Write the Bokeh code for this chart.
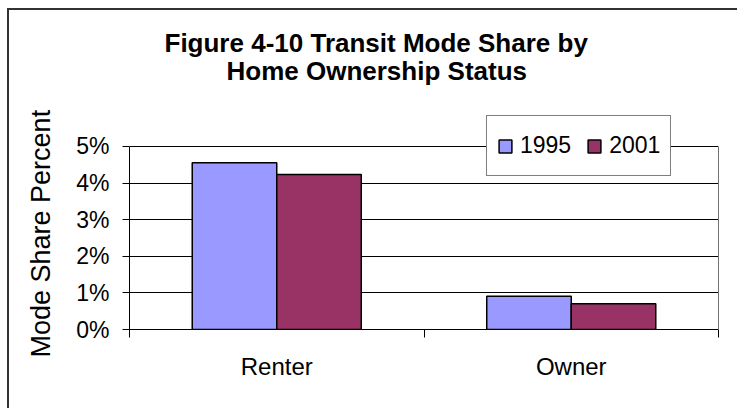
from bokeh.plotting import figure
from bokeh.models import (ColumnDataSource, FactorRange, Range1d, LinearAxis, FixedTicker,
                          NumeralTickFormatter, Legend, LegendItem, Title, InlineStyleSheet)
from bokeh.transform import dodge
from bokeh.embed import file_html
from bokeh.resources import INLINE

# ---- data ----
categories = ["Renter", "Owner"]
years = ["1995", "2001"]
share_1995 = [0.0455, 0.0091]
share_2001 = [0.0423, 0.0070]
y_ticks = [0.0, 0.01, 0.02, 0.03, 0.04, 0.05]
title_lines = ["Figure 4-10  Transit Mode Share by", "Home Ownership Status"]
y_label = "Mode Share Percent"

FONT = "Liberation Sans"
COL_1995 = "#9999FF"
COL_2001 = "#993366"

src = ColumnDataSource(dict(cat=categories, y1995=share_1995, y2001=share_2001))

# frame extends a little above the 5% line so the legend (which overlaps it) is not clipped
p = figure(width=737, height=408,
           x_range=FactorRange(factors=categories, range_padding=0),
           y_range=Range1d(0, 0.0598),
           output_backend="svg", toolbar_location=None, x_axis_location=None,
           min_border_left=129, min_border_right=19, min_border_top=110, min_border_bottom=79)
p.title.visible = False
p.background_fill_color = "white"
p.border_fill_color = "white"
p.outline_line_color = None
p.stylesheets = [InlineStyleSheet(css="""
:host { position: relative; }
:host::after { content: ''; position: absolute; left: 7px; top: 8px; right: 0; bottom: 0;
  border-left: 2px solid #333; border-top: 2px solid #333; pointer-events: none; }
""")]

# bars
r1 = p.vbar(x=dodge("cat", -0.1435, range=p.x_range), top="y1995", width=0.287, source=src,
            fill_color=COL_1995, line_color="black", line_width=1.5)
r2 = p.vbar(x=dodge("cat", 0.1435, range=p.x_range), top="y2001", width=0.287, source=src,
            fill_color=COL_2001, line_color="black", line_width=1.5)

# y axis
yt = FixedTicker(ticks=y_ticks, minor_ticks=[])
yax = p.yaxis[0]
yax.ticker = yt
yax.bounds = (y_ticks[0], y_ticks[-1])
yax.formatter = NumeralTickFormatter(format="0%")
yax.axis_line_color = "black"
yax.major_tick_line_color = "black"
yax.major_tick_out = 7
yax.major_tick_in = 0
yax.minor_tick_line_color = None
yax.major_label_text_font = FONT
yax.major_label_text_font_size = "23px"
yax.major_label_text_color = "black"
yax.major_label_standoff = 13

p.ygrid.ticker = yt
p.ygrid.grid_line_color = "black"
p.xgrid.grid_line_color = None

# y axis title (placed beside the axis, shifted down like the original)
p.add_layout(Title(text=y_label, align="left", offset=-28, standoff=36,
                   text_font=FONT, text_font_size="27px", text_font_style="normal",
                   text_color="black"), "left")

# right edge of the plot area
rax = LinearAxis(ticker=FixedTicker(ticks=[]), bounds=(y_ticks[0], y_ticks[-1]),
                 axis_line_color="#707070", major_tick_line_color=None,
                 minor_tick_line_color=None, major_label_text_font_size="0px")
p.add_layout(rax, "right")

# category axis (synthetic category coordinates): labels at centres, ticks between categories
xt = FixedTicker(ticks=[i + 0.5 for i in range(len(categories))],
                 minor_ticks=list(range(len(categories) + 1)))
xax = LinearAxis(ticker=xt,
                 major_label_overrides={i + 0.5: c for i, c in enumerate(categories)},
                 major_tick_out=0, major_tick_in=0,
                 minor_tick_out=8, minor_tick_in=0, minor_tick_line_color="black",
                 axis_line_color="black",
                 major_label_text_font=FONT, major_label_text_font_size="24px",
                 major_label_text_color="black", major_label_standoff=15)
p.add_layout(xax, "below")

# legend
legend = Legend(items=[LegendItem(label=years[0], renderers=[r1]),
                       LegendItem(label=years[1], renderers=[r2])],
                orientation="horizontal", location=(357, 153),
                glyph_width=16, glyph_height=16, label_standoff=7, spacing=15,
                padding=10, margin=0, label_height=39,
                label_text_font=FONT, label_text_font_size="23px", label_text_color="black",
                border_line_color="black", border_line_width=1,
                background_fill_color="white", background_fill_alpha=1)
p.add_layout(legend)

# title: two centred lines (line nearest the plot added first)
p.add_layout(Title(text=title_lines[1], align="left", offset=97, standoff=49,
                   text_font=FONT, text_font_size="26px", text_font_style="bold",
                   text_color="black"), "above")
p.add_layout(Title(text=title_lines[0], align="left", offset=35, standoff=-57,
                   text_font=FONT, text_font_size="26px", text_font_style="bold",
                   text_color="black"), "above")

open("out.html", "w").write(file_html(p, INLINE))
